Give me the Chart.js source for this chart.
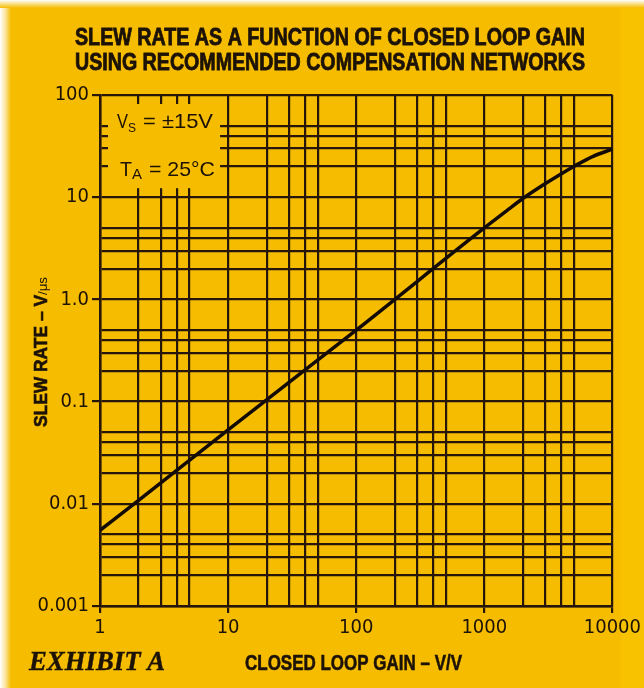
<!DOCTYPE html>
<html>
<head>
<meta charset="utf-8">
<script src="https://cdn.jsdelivr.net/npm/chart.js@4.4.1/dist/chart.umd.min.js"></script>
<style>
  html, body { margin: 0; padding: 0; background: #F6BC00; }
  #wrap { position: relative; width: 644px; height: 688px; }
</style>
</head>
<body>
<div id="wrap"><canvas id="c" width="644" height="688"></canvas></div>
<script>
// ---- data ----
const gainValues     = [1, 2, 10, 100, 1000, 1500, 2000, 3000, 4000, 5000, 7000, 10000];
const slewRateValues = [0.0055, 0.0108, 0.053, 0.5, 5.0, 7.4, 9.7, 13.6, 17, 20, 25, 29.5];
const xTickValues = [1, 10, 100, 1000, 10000];
const xTickLabels = ['1', '10', '100', '1000', '10000'];
const yTickValues = [0.001, 0.01, 0.1, 1, 10, 100];
const yTickLabels = ['0.001', '0.01', '0.1', '1.0', '10', '100'];
const gridMultiples = [1, 2, 3, 4, 5];
const titleLines = ['SLEW RATE AS A FUNCTION OF CLOSED LOOP GAIN', 'USING RECOMMENDED COMPENSATION NETWORKS'];
const xAxisTitle = 'CLOSED LOOP GAIN – V/V';
const yAxisTitle = 'SLEW RATE – V';
const yAxisUnit = '/μs';
const exhibitLabel = 'EXHIBIT A';

// ---- styles ----
const BG = '#F6BC00';
const INK = '#1c1206';
const GRID = '#26170a';
const NUM_FONT = '"Liberation Sans Narrow", "DejaVu Sans Condensed", "Liberation Sans", sans-serif';

function gridValues(decades) {
  const out = [];
  for (let i = 0; i < decades.length - 1; i++) {
    gridMultiples.forEach(m => out.push(+(decades[i] * m).toPrecision(6)));
  }
  out.push(decades[decades.length - 1]);
  return out;
}
function near(a, b) { return Math.abs(Math.log10(a) - Math.log10(b)) < 1e-6; }
function labelFor(v, vals, labels) {
  for (let i = 0; i < vals.length; i++) if (near(v, vals[i])) return labels[i];
  return '';
}
function isMajor(v, vals) { return vals.some(t => near(v, t)); }

function drawFit(ctx, text, x, y, w, font, stroke) {
  ctx.save();
  ctx.font = font;
  const m = ctx.measureText(text).width;
  ctx.translate(x, y);
  ctx.scale(w / m, 1);
  ctx.textAlign = 'left';
  ctx.textBaseline = 'alphabetic';
  ctx.fillText(text, 0, 0);
  if (stroke) { ctx.lineWidth = stroke; ctx.strokeStyle = ctx.fillStyle; ctx.strokeText(text, 0, 0); }
  ctx.restore();
}

const decor = {
  id: 'decor',
  beforeDraw(chart) {
    const ctx = chart.ctx;
    ctx.save();
    ctx.fillStyle = BG;
    ctx.fillRect(0, 0, chart.width, chart.height);
    let g = ctx.createLinearGradient(0, 0, 11, 0);
    g.addColorStop(0, '#ffffff'); g.addColorStop(0.45, '#fbe7a8'); g.addColorStop(1, BG);
    ctx.fillStyle = g; ctx.fillRect(0, 0, 11, chart.height);
    g = ctx.createLinearGradient(0, 0, 0, 8);
    g.addColorStop(0, '#ffffff'); g.addColorStop(1, BG);
    ctx.fillStyle = g; ctx.fillRect(0, 0, chart.width, 8);
    ctx.fillStyle = '#F9C200';
    ctx.fillRect(621, 8, chart.width - 621, chart.height - 8);
    ctx.restore();
  },
  beforeDatasetsDraw(chart) {
    const ctx = chart.ctx, a = chart.chartArea;
    const x10 = chart.scales.x.getPixelForValue(10);
    const y10 = chart.scales.y.getPixelForValue(10);
    ctx.save();
    ctx.fillStyle = BG;
    ctx.fillRect(a.left + 8, a.top + 9, (x10 - 8) - (a.left + 8), (y10 - 9) - (a.top + 9));
    ctx.restore();
  },
  afterDraw(chart) {
    const ctx = chart.ctx;
    ctx.save();
    ctx.fillStyle = INK;
    // title
    drawFit(ctx, titleLines[0], 75, 45, 510, 'bold 23px "Liberation Sans", sans-serif', 0.8);
    drawFit(ctx, titleLines[1], 75, 70, 510, 'bold 23px "Liberation Sans", sans-serif', 0.8);
    // conditions
    drawFit(ctx, 'V', 117, 128, 11, '20px "Liberation Sans", sans-serif');
    drawFit(ctx, 'S', 128, 132, 8, '12px "Liberation Sans", sans-serif');
    drawFit(ctx, '= ±15V', 143, 128, 70, '21px "Liberation Sans", sans-serif');
    drawFit(ctx, 'T', 120, 176, 12, '21px "Liberation Sans", sans-serif');
    drawFit(ctx, 'A', 132, 179, 10, '14px "Liberation Sans", sans-serif');
    drawFit(ctx, '= 25°C', 149, 176, 66, '21px "Liberation Sans", sans-serif');
    // x-axis title & exhibit
    drawFit(ctx, xAxisTitle, 245, 670, 217, 'bold 22px "Liberation Sans", sans-serif', 0.6);
    drawFit(ctx, exhibitLabel, 29, 670, 136, 'bold italic 28px "Liberation Serif", serif', 0.4);
    // y-axis title (rotated)
    ctx.translate(47, 427);
    ctx.rotate(-Math.PI / 2);
    drawFit(ctx, yAxisTitle, 0, 0, 132, 'bold 19px "Liberation Sans", sans-serif', 0.6);
    drawFit(ctx, yAxisUnit, 132, 0, 18, '12px "Liberation Sans", sans-serif');
    ctx.restore();
  }
};

const xGrid = gridValues(xTickValues);
const yGrid = gridValues(yTickValues);

new Chart(document.getElementById('c'), {
  type: 'line',
  data: {
    datasets: [{
      data: gainValues.map((g, i) => ({ x: g, y: slewRateValues[i] })),
      borderColor: '#140c04',
      borderWidth: 3.5,
      pointRadius: 0,
      cubicInterpolationMode: 'monotone',
      fill: false
    }]
  },
  options: {
    responsive: false,
    animation: false,
    devicePixelRatio: 1,
    layout: { padding: { left: 0, top: 95, right: 27, bottom: 42 } },
    plugins: { legend: { display: false }, title: { display: false }, tooltip: { enabled: false } },
    scales: {
      x: {
        type: 'logarithmic', min: 1, max: 10000,
        afterBuildTicks: s => { s.ticks = xGrid.map(v => ({ value: v })); },
        afterFit: s => { s.height = 40; },
        ticks: {
          autoSkip: false, maxRotation: 0, minRotation: 0, padding: 3,
          color: INK, font: { family: NUM_FONT, size: 20 },
          callback: v => labelFor(v, xTickValues, xTickLabels)
        },
        grid: {
          color: GRID, lineWidth: 2.2, tickLength: 7,
          tickColor: c => (c.tick && isMajor(c.tick.value, xTickValues)) ? GRID : 'rgba(0,0,0,0)'
        },
        border: { display: true, color: GRID, width: 2.5 }
      },
      y: {
        type: 'logarithmic', min: 0.001, max: 100,
        afterBuildTicks: s => { s.ticks = yGrid.map(v => ({ value: v })); },
        afterFit: s => { s.width = 100; },
        ticks: {
          autoSkip: false, padding: 3,
          color: INK, font: { family: NUM_FONT, size: 20 },
          callback: v => labelFor(v, yTickValues, yTickLabels)
        },
        grid: {
          color: GRID, lineWidth: 2.2, tickLength: 8,
          tickColor: c => (c.tick && isMajor(c.tick.value, yTickValues)) ? GRID : 'rgba(0,0,0,0)'
        },
        border: { display: true, color: GRID, width: 2.5 }
      }
    }
  },
  plugins: [decor]
});
</script>
</body>
</html>
